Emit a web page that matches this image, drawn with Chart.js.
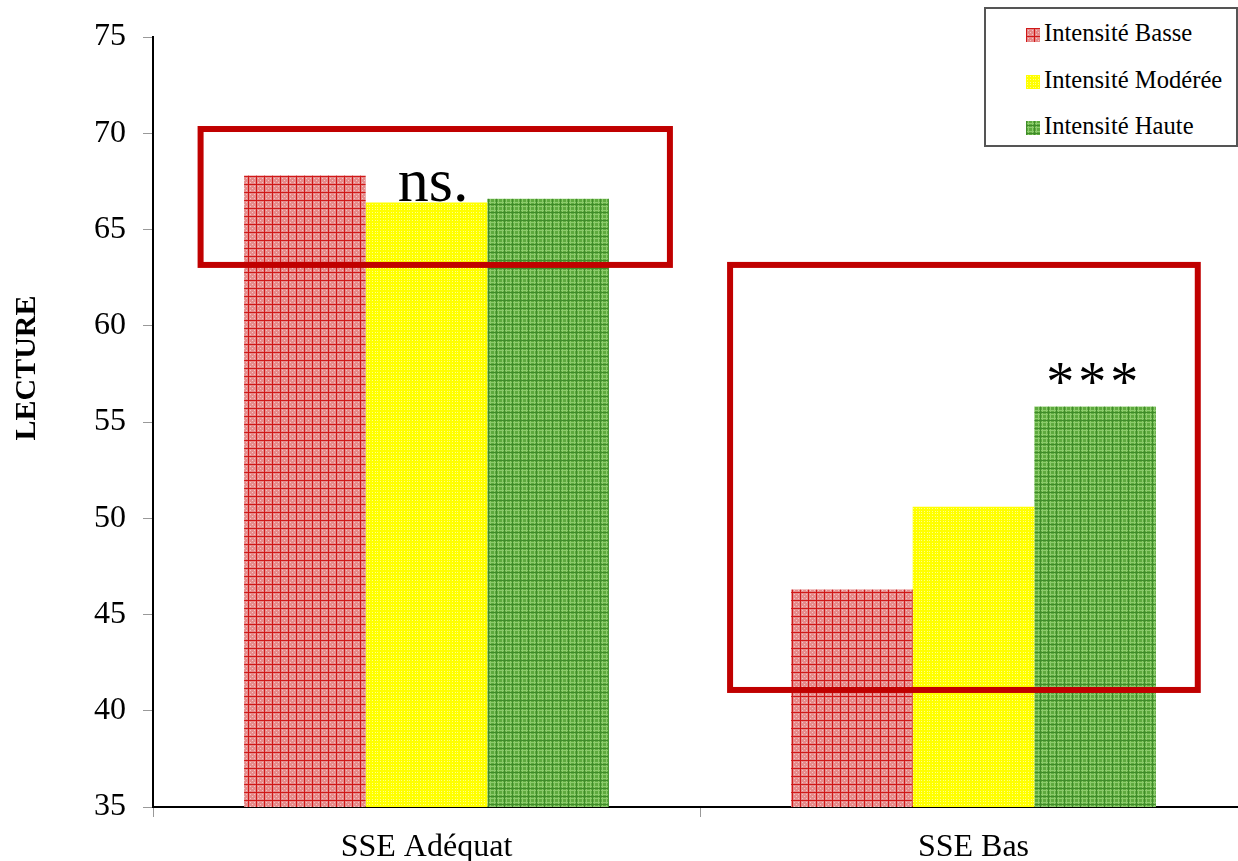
<!DOCTYPE html>
<html>
<head>
<meta charset="utf-8">
<script src="https://cdn.jsdelivr.net/npm/chart.js@4.4.1/dist/chart.umd.min.js"></script>
<style>
html,body{margin:0;padding:0;background:#fff;overflow:hidden}
#wrap{position:relative;width:1250px;height:861px}
#legend{position:absolute;left:984px;top:7px;width:254px;height:140px;border:2px solid #555;box-sizing:border-box;background:#fff;
  font-family:"Liberation Serif","Times New Roman",serif;font-size:24.6px;color:#000}
#legend .item{position:absolute;left:40px;height:24px;line-height:24px;white-space:nowrap}
#legend .sw{display:inline-block;width:14px;height:14px;margin-right:4px;vertical-align:-1px}
</style>
</head>
<body>
<div id="wrap">
  <canvas id="chart" width="1250" height="861"></canvas>
  <div id="legend"></div>
</div>
<script>
// data
const categories = ['SSE Adéquat', 'SSE Bas'];
const seriesNames = ['Intensité Basse', 'Intensité Modérée', 'Intensité Haute'];
const basse = [67.8, 46.3];
const moderee = [66.4, 50.6];
const haute = [66.6, 55.8];
const yMin = 35, yMax = 75, yStep = 5;

// significance boxes (category index / value units) and their labels
const boxX0 = [-0.413, 0.555];
const boxX1 = [0.445, 1.41];
const boxTop = [70.22, 63.16];
const boxBottom = [63.16, 41.08];
const noteText = ['ns.', '***'];
const noteX = [0.012, 1.217];
const noteY = [66.48, 56.3];

const SERIF = '"Liberation Serif","Times New Roman",serif';

function makeTile(kind){
  const c = document.createElement('canvas');
  c.width = 8; c.height = 8;
  const g = c.getContext('2d');
  if(kind === 0){
    g.fillStyle = '#e68a8a'; g.fillRect(0,0,8,8);
    g.fillStyle = '#f3c4c4';
    for(let y=2;y<8;y+=2)for(let x=2;x<8;x+=2)if((x+y)%4===0)g.fillRect(x,y,1,1);
    g.fillStyle = '#d01818'; g.fillRect(0,0,8,1); g.fillRect(0,0,1,8);
  } else if(kind === 1){
    g.fillStyle = '#ffff00'; g.fillRect(0,0,8,8);
    g.fillStyle = '#ffff88';
    for(let y=1;y<8;y+=3)for(let x=1;x<8;x+=3)g.fillRect(x,y,1,1);
  } else {
    g.fillStyle = '#5eaa3e'; g.fillRect(0,0,8,8);
    g.fillStyle = '#8ccb6c'; g.fillRect(0,2,8,1); g.fillRect(2,0,1,8); g.fillRect(0,6,8,1); g.fillRect(6,0,1,8);
    g.fillStyle = '#3f8c2a'; g.fillRect(0,0,1,8); g.fillRect(0,4,8,1);
  }
  return c;
}
const tiles = [makeTile(0), makeTile(1), makeTile(2)];
const ctx0 = document.getElementById('chart').getContext('2d');
const fills = tiles.map(t => ctx0.createPattern(t, 'repeat'));

// legend (html)
const legend = document.getElementById('legend');
const rowTop = [12, 59, 105];
seriesNames.forEach((n,i) => {
  const d = document.createElement('div');
  d.className = 'item'; d.style.top = rowTop[i] + 'px';
  const s = document.createElement('span');
  s.className = 'sw'; s.style.background = 'url(' + tiles[i].toDataURL() + ')';
  d.appendChild(s); d.appendChild(document.createTextNode(n));
  legend.appendChild(d);
});

const annotations = {
  id: 'annotations',
  afterDatasetsDraw(chart){
    const {ctx, scales:{x, y}} = chart;
    ctx.save();
    ctx.strokeStyle = '#c00000'; ctx.lineWidth = 6;
    for(let i=0;i<boxX0.length;i++){
      const l = x.getPixelForValue(boxX0[i]), r = x.getPixelForValue(boxX1[i]);
      const t = y.getPixelForValue(boxTop[i]), b = y.getPixelForValue(boxBottom[i]);
      ctx.strokeRect(l, t, r-l, b-t);
    }
    ctx.fillStyle = '#000'; ctx.textAlign = 'center'; ctx.textBaseline = 'alphabetic';
    ctx.font = '62px ' + SERIF;
    ctx.fillText(noteText[0], x.getPixelForValue(noteX[0]), y.getPixelForValue(noteY[0]));
    ctx.font = '56px ' + SERIF;
    ctx.letterSpacing = '4px';
    ctx.fillText(noteText[1], x.getPixelForValue(noteX[1]) + 2, y.getPixelForValue(noteY[1]) + 4);
    ctx.letterSpacing = '0px';
    ctx.restore();
  },
  afterDraw(chart){
    const ctx = chart.ctx;
    ctx.save();
    ctx.translate(27, 368); ctx.rotate(-Math.PI/2);
    ctx.font = 'bold 30px ' + SERIF; ctx.fillStyle = '#000';
    ctx.textAlign = 'center'; ctx.textBaseline = 'middle';
    ctx.fillText('LECTURE', 0, 0);
    ctx.restore();
  }
};

new Chart(ctx0, {
  type: 'bar',
  data: {
    labels: categories,
    datasets: [
      {label: seriesNames[0], data: basse, backgroundColor: fills[0]},
      {label: seriesNames[1], data: moderee, backgroundColor: fills[1]},
      {label: seriesNames[2], data: haute, backgroundColor: fills[2]}
    ]
  },
  options: {
    responsive: false, animation: false,
    layout: {padding: {top: 37, right: 3, bottom: 0, left: 0}},
    datasets: {bar: {categoryPercentage: 0.667, barPercentage: 1, borderWidth: 0}},
    plugins: {legend: {display: false}, tooltip: {enabled: false}},
    scales: {
      x: {
        grid: {drawOnChartArea: false, drawTicks: true, tickLength: 10, color: '#999'},
        border: {display: true, color: '#000', width: 2},
        ticks: {color: '#000', font: {family: SERIF, size: 32}, padding: 11},
        afterFit(s){ s.height = 54; }
      },
      y: {
        min: yMin, max: yMax,
        grid: {drawOnChartArea: false, drawTicks: true, tickLength: 10, color: '#999'},
        border: {display: true, color: '#000', width: 2},
        ticks: {stepSize: yStep, color: '#000', font: {family: SERIF, size: 32}, padding: 17},
        afterFit(s){ s.width = 153; }
      }
    }
  },
  plugins: [annotations]
});
</script>
</body>
</html>
